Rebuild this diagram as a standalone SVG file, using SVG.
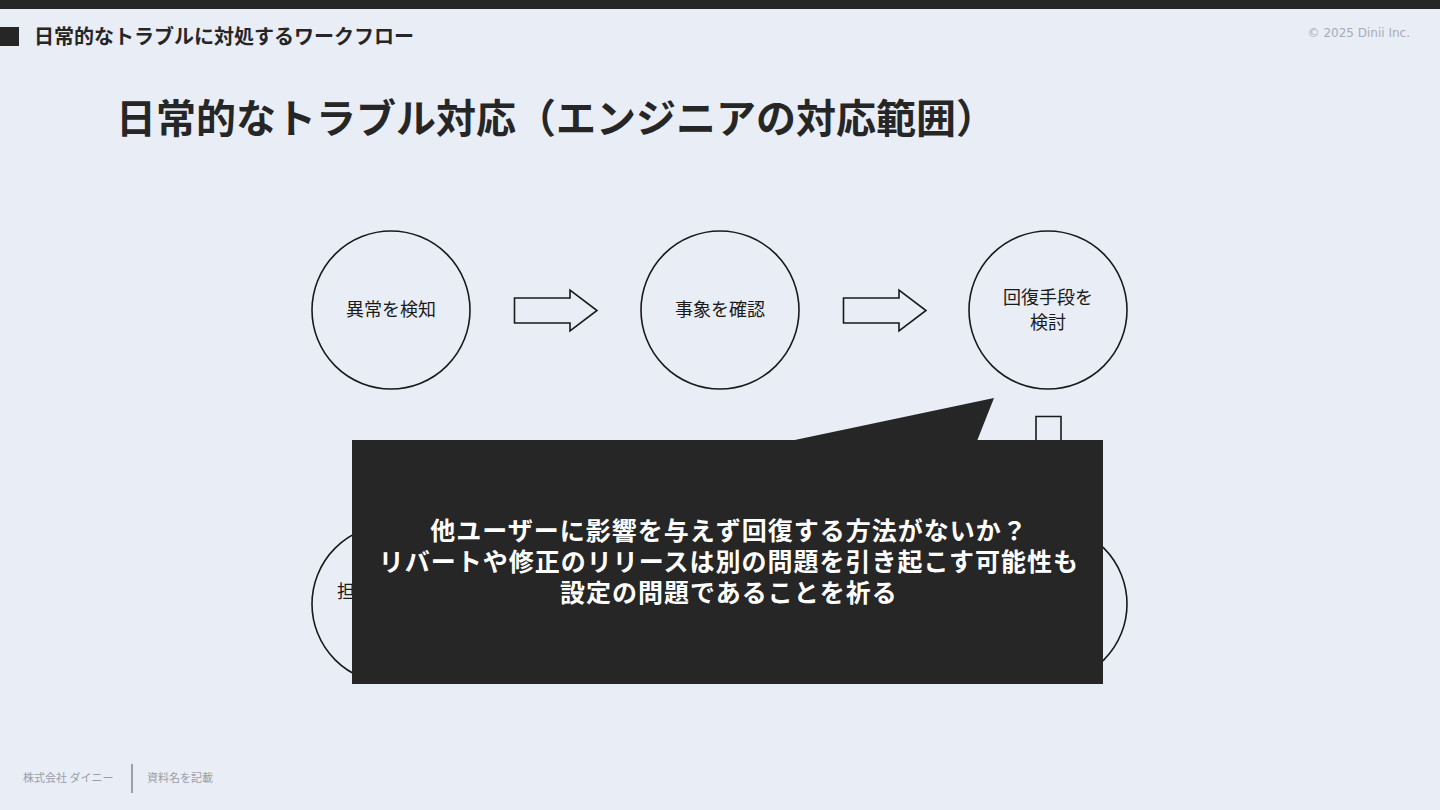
<svg xmlns="http://www.w3.org/2000/svg" width="1440" height="810" viewBox="0 0 1440 810">
<style>
text{font-family:"Noto Sans CJK JP","Noto Sans",sans-serif}
.node{fill:none;stroke:#1a1a1a;stroke-width:1.6}
.lbl{font-size:18px;fill:#1a1a1a;text-anchor:middle}
.arr{fill:#e9edf6;stroke:#1a1a1a;stroke-width:1.6}
.call{fill:#262626}
.ct{font-size:25px;font-weight:700;fill:#ffffff;text-anchor:middle;letter-spacing:1px}
.foot{font-size:11px;fill:#9a9ea6}
</style>
<rect width="1440" height="810" fill="#e9edf6"/>
<rect x="0" y="0" width="1440" height="9" fill="#262626"/>
<rect x="0" y="27" width="19" height="19" fill="#262626"/>
<text x="34" y="44" font-size="20" font-weight="700" fill="#262626">日常的なトラブルに対処するワークフロー</text>
<text x="1410" y="37" font-size="12" fill="#a8acb6" text-anchor="end" style="font-family:'DejaVu Sans',sans-serif">© 2025 Dinii Inc.</text>
<text x="116" y="133" font-size="40" font-weight="700" fill="#262626">日常的なトラブル対応（エンジニアの対応範囲）</text>

<g id="n1"><circle class="node" cx="391" cy="310" r="79"/><text class="lbl" x="391" y="316">異常を検知</text></g>
<g id="n2"><circle class="node" cx="720" cy="310" r="79"/><text class="lbl" x="720" y="316">事象を確認</text></g>
<g id="n3"><circle class="node" cx="1048" cy="310" r="79"/><text class="lbl" x="1048" y="304">回復手段を</text><text class="lbl" x="1048" y="329">検討</text></g>
<g id="n4"><circle class="node" cx="391" cy="604" r="79"/><text class="lbl" x="346" y="598">担</text></g>
<g id="n5"><circle class="node" cx="1048" cy="604" r="79"/></g>

<g id="connectors">
<polygon class="arr" points="514.5,298 570,298 570,290 597,310.5 570,331 570,323 514.5,323"/>
<polygon class="arr" points="843.5,298 899,298 899,290 926,310.5 899,331 899,323 843.5,323"/>
<polygon class="arr" points="1036,416.5 1061,416.5 1061,470 1069,470 1048.5,500 1028,470 1036,470"/>
</g>

<g id="callout">
<polygon class="call" points="790,441 994,398 977,441"/>
<rect class="call" x="352" y="440" width="751" height="244"/>
<text class="ct" x="729" y="540">他ユーザーに影響を与えず回復する方法がないか？</text>
<text class="ct" x="729" y="571">リバートや修正のリリースは別の問題を引き起こす可能性も</text>
<text class="ct" x="729" y="602">設定の問題であることを祈る</text>
</g>

<text class="foot" x="23" y="782">株式会社 ダイニー</text>
<rect x="131" y="764" width="2" height="29" fill="#9a9ea6"/>
<text class="foot" x="147" y="782">資料名を記載</text>
</svg>
